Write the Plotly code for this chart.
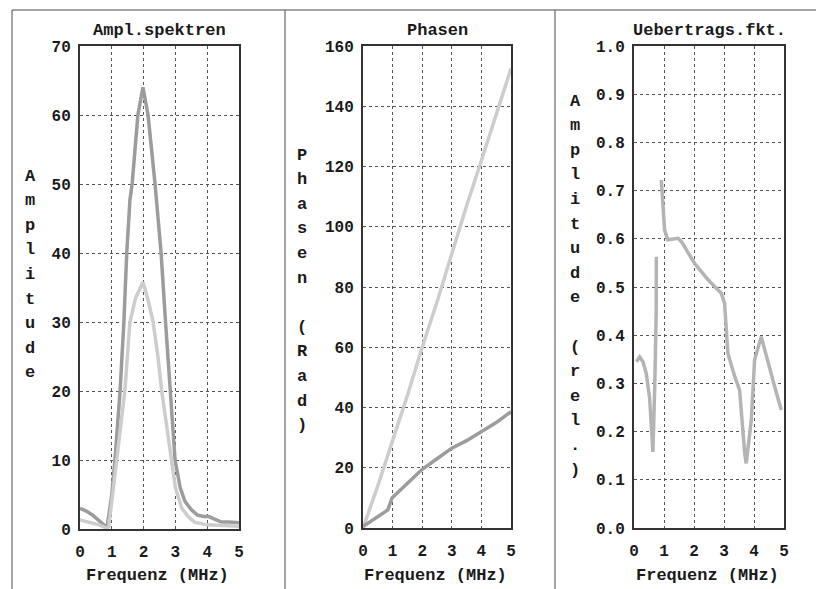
import plotly.graph_objects as go

# ---------------- data ----------------
freq_a = [0, 0.2, 0.4, 0.6, 0.85, 1.0, 1.1, 1.26, 1.38, 1.47, 1.57, 1.64, 1.82, 1.98,
          2.14, 2.36, 2.55, 2.69, 2.83, 2.99, 3.15, 3.3, 3.5, 3.7, 3.9, 4.05, 4.25, 4.45, 4.7, 5.0]
ampl_a = [3, 2.6, 2.0, 1.2, 0.2, 5, 10, 20, 30, 40, 47.7, 50, 60, 64,
          60, 50, 40, 30, 20, 10, 6, 4, 2.8, 2.0, 1.8, 1.8, 1.4, 1.0, 1.0, 0.9]

freq_b = [0, 0.3, 0.6, 0.8, 0.9, 1.0, 1.15, 1.41, 1.57, 1.75, 1.98, 2.15, 2.3, 2.45,
          2.57, 2.72, 2.86, 3.0, 3.2, 3.4, 3.6, 4.0, 4.5, 5.0]
ampl_b = [1.3, 1.0, 0.6, 0.2, 0.3, 4, 10, 20, 30, 33.5, 35.8, 33, 30, 25,
          20, 15, 10, 6, 3, 1.8, 1.0, 0.6, 0.5, 0.4]

freq_ph1 = [0, 0.5, 1, 1.5, 2, 2.5, 3, 3.5, 4, 4.5, 5]
phase_1 = [0, 14, 29, 44, 60, 75, 91, 107, 122, 137, 152.5]

freq_ph2 = [0, 0.4, 0.84, 0.98, 1.5, 2, 2.5, 3, 3.5, 4, 4.5, 5]
phase_2 = [0.5, 3, 6, 10, 15, 19.5, 23, 26.5, 29, 32, 35, 38.6]

freq_tf = [0.08, 0.19, 0.30, 0.41, 0.52, 0.63, 0.69, 0.74, 0.745, None, 0.91, 0.97, 1.02,
           1.13, 1.47, 1.58, 2.02, 2.47, 2.91, 3.02, 3.08, 3.13, 3.36, 3.52, 3.69, 3.74,
           3.91, 4.02, 4.24, 4.41, 4.69, 4.91]
transfer = [0.345, 0.355, 0.345, 0.32, 0.27, 0.158, 0.29, 0.45, 0.563, None, 0.722, 0.674,
            0.618, 0.598, 0.601, 0.594, 0.549, 0.515, 0.487, 0.466, 0.397, 0.362, 0.314,
            0.286, 0.155, 0.134, 0.224, 0.349, 0.397, 0.355, 0.293, 0.245]

x_ticks = [0, 1, 2, 3, 4, 5]
y1_ticks = [0, 10, 20, 30, 40, 50, 60, 70]
y2_ticks = [0, 20, 40, 60, 80, 100, 120, 140, 160]
y3_ticks = [0.0, 0.1, 0.2, 0.3, 0.4, 0.5, 0.6, 0.7, 0.8, 0.9, 1.0]

titles = ["Ampl.spektren", "Phasen", "Uebertrags.fkt."]
x_title = "Frequenz (MHz)"
y_titles = ["Amplitude", "Phasen (Rad)", "Amplitude (rel.)"]

# ---------------- figure ----------------
# the page places the figure 8 px from the top-left corner (body margin),
# so the figure is 8 px smaller and all screen positions are shifted by 8 px
OFF = 8
W, H = 824 - OFF, 589 - OFF
FONT = "Liberation Mono"
INK = "#1a1a1a"
DARK = "#9c9c9c"
LIGHT = "#cdcdcd"


def px(x):
    return (x - OFF) / W


def py(y):
    return 1 - (y - OFF) / H


fig = go.Figure()
fig.add_trace(go.Scatter(x=freq_a, y=ampl_a, mode="lines", line=dict(color=DARK, width=3.5),
                         xaxis="x", yaxis="y", showlegend=False))
fig.add_trace(go.Scatter(x=freq_b, y=ampl_b, mode="lines", line=dict(color=LIGHT, width=3.5),
                         xaxis="x", yaxis="y", showlegend=False))
fig.add_trace(go.Scatter(x=freq_ph1, y=phase_1, mode="lines", line=dict(color=LIGHT, width=3.5),
                         xaxis="x2", yaxis="y2", showlegend=False))
fig.add_trace(go.Scatter(x=freq_ph2, y=phase_2, mode="lines", line=dict(color=DARK, width=3.5),
                         xaxis="x2", yaxis="y2", showlegend=False))
fig.add_trace(go.Scatter(x=freq_tf, y=transfer, mode="lines", connectgaps=False,
                         line=dict(color="#b4b4b4", width=3.5),
                         xaxis="x3", yaxis="y3", showlegend=False))

panels = [
    (80, 239, 46, 529),
    (363, 511, 46, 528),
    (634, 784, 46, 528),
]
yranges = [[0, 70], [0, 160], [0, 1.0]]
yticks = [y1_ticks, y2_ticks, y3_ticks]
yfmt = ["d", "d", ".1f"]

axis_common = dict(
    showline=True, mirror=True, linecolor="#333333", linewidth=2,
    showgrid=True, gridcolor="#555555", griddash="dot", gridwidth=1,
    zeroline=False, ticks="", fixedrange=True, automargin=False,
    tickfont=dict(family=FONT, size=16, color=INK, weight="bold"),
)

layout = dict(
    template="none",
    width=W, height=H, margin=dict(l=0, r=0, t=0, b=0, pad=0, autoexpand=False),
    paper_bgcolor="white", plot_bgcolor="white", showlegend=False,
    font=dict(family=FONT, color=INK),
)

annotations = []
for i, (x0, x1, y0, y1) in enumerate(panels):
    sfx = "" if i == 0 else str(i + 1)
    layout["xaxis" + sfx] = dict(
        axis_common, domain=[px(x0), px(x1)], range=[0, 5],
        tickvals=x_ticks, anchor="y" + sfx, ticklabelstandoff=7,
    )
    layout["yaxis" + sfx] = dict(
        axis_common, domain=[py(y1), py(y0)], range=yranges[i],
        tickvals=yticks[i], tickformat=yfmt[i], anchor="x" + sfx, ticklabelstandoff=4,
    )
    cx = (x0 + x1) / 2
    annotations.append(dict(text=titles[i], x=px(cx), y=py(31), xref="paper", yref="paper",
                            showarrow=False, xanchor="center", yanchor="middle",
                            font=dict(family=FONT, size=17, color=INK, weight="bold")))
    annotations.append(dict(text=x_title, x=px(cx - 2), y=py(575), xref="paper", yref="paper",
                            showarrow=False, xanchor="center", yanchor="middle",
                            font=dict(family=FONT, size=17, color=INK, weight="bold")))

# vertical stacked y-axis titles
ylabel_pos = [(30, 176), (302, 155), (575, 101)]
step = 24.6
for (lx, ly), label in zip(ylabel_pos, y_titles):
    for k, ch in enumerate(label):
        if ch == " ":
            continue
        annotations.append(dict(text=ch, x=px(lx), y=py(ly + k * step),
                                xref="paper", yref="paper", showarrow=False,
                                xanchor="center", yanchor="middle",
                                font=dict(family=FONT, size=17, color=INK, weight="bold")))

layout["annotations"] = annotations

frame = "#4a4a4a"
shapes = [
    dict(type="line", xref="paper", yref="paper", x0=px(12), x1=1, y0=py(10), y1=py(10),
         line=dict(color=frame, width=1)),
    dict(type="line", xref="paper", yref="paper", x0=px(12), x1=px(12), y0=0, y1=py(10),
         line=dict(color=frame, width=1)),
    dict(type="line", xref="paper", yref="paper", x0=px(285), x1=px(285), y0=0, y1=py(10),
         line=dict(color=frame, width=1)),
    dict(type="line", xref="paper", yref="paper", x0=px(555), x1=px(555), y0=0, y1=py(10),
         line=dict(color=frame, width=1)),
]
layout["shapes"] = shapes

fig.update_layout(**layout)
fig.write_html("out.html")
